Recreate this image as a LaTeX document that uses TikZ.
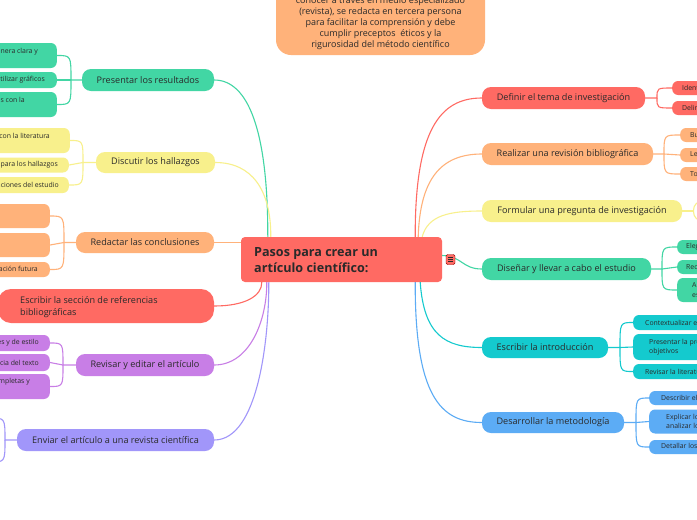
\documentclass[tikz,border=0pt]{standalone}
\usepackage{fontspec}
\setmainfont{Open Sans}
\usetikzlibrary{backgrounds}
\definecolor{cred}{HTML}{FF6A63}
\definecolor{cpeach}{HTML}{FFB27A}
\definecolor{cyellow}{HTML}{F8F08C}
\definecolor{cgreen}{HTML}{42D6A4}
\definecolor{ccyan}{HTML}{14CACE}
\definecolor{cblue}{HTML}{5CACF5}
\definecolor{cpurple}{HTML}{C87EE6}
\definecolor{clav}{HTML}{A196FA}
\definecolor{ink}{HTML}{2A2A2A}
\begin{document}
\begin{tikzpicture}[x=1pt,y=-1pt,
  topic/.style={rounded corners=9pt, minimum height=22pt, inner sep=0pt, font=\fontsize{9.1}{11}\selectfont, text=ink},
  subbox/.style={rounded corners=6pt, inner sep=0pt, minimum width=130pt},
  lbl/.style={inner sep=0pt, font=\fontsize{6.9}{9.2}\selectfont, text=ink},
  link/.style={line width=1.1pt},
]
\useasboundingbox (0,0) rectangle (697,520);

% top note
\node[fill=cpeach, rounded corners=15pt, minimum width=209pt, minimum height=90pt, inner sep=0pt] (note) at (380.5,10) {};
\node[anchor=south, align=center, inner sep=0pt, font=\fontsize{9}{11}\selectfont, text=ink] (notetext) at (380.5,49.5)
 {conocer a través en medio especializado\\(revista), se redacta en tercera persona\\para facilitar la comprensión y debe\\cumplir preceptos \ éticos y la\\rigurosidad del método científico};

% root
\node[fill=cred, rounded corners=4pt, minimum width=201pt, minimum height=45pt, inner sep=0pt] (root) at (341.5,259.5) {};
\node[anchor=west, align=left, inner sep=0pt, font=\bfseries\fontsize{12.6}{16.5}\selectfont, text=ink] (roottext) at (254,260) {Pasos para crear un\\artículo científico:};
\node[fill=cred, draw=red!60!black, line width=0.4pt, rounded corners=1.5pt, minimum width=9pt, minimum height=10pt, inner sep=0pt] (menu) at (450.5,259.5) {};
\draw[ink, line width=0.7pt] ([xshift=-2.3pt,yshift=2.2pt]menu.center) -- ([xshift=2.3pt,yshift=2.2pt]menu.center)
  ([xshift=-2.3pt]menu.center) -- ([xshift=2.3pt]menu.center)
  ([xshift=-2.3pt,yshift=-2.2pt]menu.center) -- ([xshift=2.3pt,yshift=-2.2pt]menu.center);

% right main topics
\node[topic, fill=cred, minimum width=163pt] (definir) at (563.5,98) {Definir el tema de investigación};
\node[topic, fill=cpeach, minimum width=171pt] (revision) at (567.5,154) {Realizar una revisión bibliográfica};
\node[topic, fill=cyellow, minimum width=200pt] (formular) at (582,211) {Formular una pregunta de investigación};
\node[topic, fill=cgreen, minimum width=169pt] (disenar) at (566.5,269) {Diseñar y llevar a cabo el estudio};
\node[topic, fill=ccyan, minimum width=126pt, minimum height=21pt] (intro) at (545,347.5) {Escribir la introducción};
\node[topic, fill=cblue, minimum width=142pt, minimum height=21pt] (metod) at (553,422.5) {Desarrollar la metodología};

% left main topics
\node[topic, fill=cgreen, minimum width=132pt] (presentar) at (148,80) {Presentar los resultados};
\node[topic, fill=cyellow, minimum width=119pt, minimum height=21pt] (discutir) at (155.5,162.5) {Discutir los hallazgos};
\node[topic, fill=cpeach, minimum width=138pt, minimum height=21pt] (redactar) at (145,242.5) {Redactar las conclusiones};
\node[topic, fill=cred, minimum width=216pt, minimum height=34pt, rounded corners=13pt] (refs) at (106,306) {};
\node[anchor=west, align=left, inner sep=0pt, font=\fontsize{9.1}{12}\selectfont, text=ink] (refstext) at (20,307) {Escribir la sección de referencias\\bibliográficas};
\node[topic, fill=cpurple, minimum width=138pt] (revisar) at (145,365) {Revisar y editar el artículo};
\node[topic, fill=clav, minimum width=197pt] (enviar) at (115.5,440) {Enviar el artículo a una revista científica};

% right sub topics
\node[subbox, fill=cred, anchor=west, minimum height=14pt] (df1) at (672,88) {};
\node[lbl, anchor=west] (df1t) at (682,88) {Identificar un área de interés};
\node[subbox, fill=cred, anchor=west, minimum height=14pt] (df2) at (672,108) {};
\node[lbl, anchor=west] (df2t) at (682,108) {Delimitar el tema};

\node[subbox, fill=cpeach, anchor=west, minimum height=14pt] (rv1) at (680,135) {};
\node[lbl, anchor=west] (rv1t) at (690,135) {Buscar fuentes relevantes};
\node[subbox, fill=cpeach, anchor=west, minimum height=14pt] (rv2) at (680,155) {};
\node[lbl, anchor=west] (rv2t) at (690,155) {Leer y analizar la literatura};
\node[subbox, fill=cpeach, anchor=west, minimum height=14pt] (rv3) at (680,174) {};
\node[lbl, anchor=west] (rv3t) at (690,174) {Tomar notas};

\node[subbox, fill=white, draw=cyellow, line width=1.1pt, anchor=west, minimum height=20pt, rounded corners=9pt] (fq) at (693,211) {};

\node[subbox, fill=cgreen, anchor=west, minimum height=14pt] (de1) at (677,247) {};
\node[lbl, anchor=west] (de1t) at (686,247) {Elegir el diseño del estudio};
\node[subbox, fill=cgreen, anchor=west, minimum height=14pt] (de2) at (677,267) {};
\node[lbl, anchor=west] (de2t) at (686,267) {Recolectar los datos};
\node[subbox, fill=cgreen, anchor=west, minimum height=24pt] (de3) at (677,290) {};
\node[lbl, anchor=west, align=left] (de3t) at (692,290) {Analizar los datos\\estadísticamente};

\node[subbox, fill=ccyan, anchor=west, minimum height=15pt] (in1) at (633,322.5) {};
\node[lbl, anchor=west] (in1t) at (645,322.5) {Contextualizar el tema};
\node[subbox, fill=ccyan, anchor=west, minimum height=26pt] (in2) at (633,347) {};
\node[lbl, anchor=west, align=left] (in2t) at (649,347) {Presentar la pregunta y los\\objetivos};
\node[subbox, fill=ccyan, anchor=west, minimum height=15pt] (in3) at (633,371.5) {};
\node[lbl, anchor=west] (in3t) at (645,371.5) {Revisar la literatura relevante};

\node[subbox, fill=cblue, anchor=west, minimum height=14pt] (mt1) at (649,398) {};
\node[lbl, anchor=west] (mt1t) at (661,398) {Describir el diseño del estudio};
\node[subbox, fill=cblue, anchor=west, minimum height=24pt] (mt2) at (649,421.5) {};
\node[lbl, anchor=west, align=left] (mt2t) at (666,421.5) {Explicar los métodos para\\analizar los datos};
\node[subbox, fill=cblue, anchor=west, minimum height=14pt] (mt3) at (649,447) {};
\node[lbl, anchor=west] (mt3t) at (661,447) {Detallar los procedimientos};

% left sub topics
\node[subbox, fill=cgreen, anchor=east, minimum height=25pt] (ps1) at (57,55.5) {};
\node[lbl, anchor=east] (ps1t) at (38,52) {Describir los resultados de manera clara y};
\node[subbox, fill=cgreen, anchor=east, minimum height=16pt] (ps2) at (57,80) {};
\node[lbl, anchor=east] (ps2t) at (45,80) {Utilizar gráficos};
\node[subbox, fill=cgreen, anchor=east, minimum height=25pt] (ps3) at (57,104.5) {};
\node[lbl, anchor=east] (ps3t) at (25,101) {Comparar los resultados con la};

\node[subbox, fill=cyellow, anchor=east, minimum height=25pt] (ds1) at (70,140.5) {};
\node[lbl, anchor=east] (ds1t) at (50,136) {Relacionar los resultados con la literatura};
\node[subbox, fill=cyellow, anchor=east, minimum height=15pt] (ds2) at (69,165) {};
\node[lbl, anchor=east] (ds2t) at (58,165) {Proponer explicaciones para los hallazgos};
\node[subbox, fill=cyellow, anchor=east, minimum height=16pt] (ds3) at (69,185) {};
\node[lbl, anchor=east] (ds3t) at (59,185) {Reconocer las limitaciones del estudio};

\node[subbox, fill=cpeach, anchor=east, minimum height=24pt] (rs1) at (50,216) {};
\node[subbox, fill=cpeach, anchor=east, minimum height=24pt] (rs2) at (50,245) {};
\node[subbox, fill=cpeach, anchor=east, minimum height=15pt] (rs3) at (50,269.5) {};
\node[lbl, anchor=east] (rs3t) at (38,270) {Sugerir áreas de investigación futura};

\node[subbox, fill=cpurple, anchor=east, minimum height=16pt] (vs1) at (50,343) {};
\node[lbl, anchor=east] (vs1t) at (39,343) {Corregir errores gramaticales y de estilo};
\node[subbox, fill=cpurple, anchor=east, minimum height=17pt] (vs2) at (50,362.5) {};
\node[lbl, anchor=east] (vs2t) at (39,362.5) {Verificar la coherencia del texto};
\node[subbox, fill=cpurple, anchor=east, minimum height=25pt] (vs3) at (50,386.5) {};
\node[lbl, anchor=east] (vs3t) at (30,382) {Asegurarse de que las referencias estén completas y};

\coordinate (en1) at (-10,418);
\coordinate (en2) at (-10,462);

\begin{pgfonlayer}{background}
\fill[white] (0,0) rectangle (697,520);
% main connectors right
\draw[link, cred] ([xshift=-27pt]root.north east) .. controls (415,130) and (440,98) .. (definir.west);
\draw[link, cpeach] ([xshift=-24pt]root.north east) .. controls (420,180) and (440,154) .. (revision.west);
\draw[link, cyellow] ([xshift=-20pt]root.north east) .. controls (428,215) and (450,211) .. (formular.west);
\draw[link, cgreen] ([yshift=4pt]root.east) .. controls (462,256) and (462,269) .. (disenar.west);
\draw[link, ccyan] ([xshift=-22pt]root.south east) .. controls (424,335) and (445,347.5) .. (intro.west);
\draw[link, cblue] ([xshift=-27pt]root.south east) .. controls (415,395) and (440,422.5) .. (metod.west);
% main connectors left
\draw[link, cgreen] (presentar.east) .. controls (248,80) and (268,130) .. ([xshift=27pt]root.north west);
\draw[link, cyellow] (discutir.east) .. controls (252,162.5) and (271,190) .. ([xshift=30pt]root.north west);
\draw[link, cpeach] (redactar.east) -- (root.west |- redactar.east);
\draw[link, cred] (refs.east) .. controls (245,306) and (262,296) .. ([xshift=21pt]root.south west);
\draw[link, cpurple] (revisar.east) .. controls (250,365) and (267,320) .. ([xshift=26pt]root.south west);
\draw[link, clav] (enviar.east) .. controls (258,440) and (269,340) .. ([xshift=28pt]root.south west);
% sub connectors right
\draw[link, cred] (definir.east) -- (657,98) .. controls (657,88) .. (df1.west);
\draw[link, cred] (657,98) .. controls (657,108) .. (df2.west);
\draw[link, cpeach] (revision.east) -- (664,154) .. controls (664,135) .. (rv1.west);
\draw[link, cpeach] (664,154) -- (rv2.west);
\draw[link, cpeach] (664,154) .. controls (664,174) .. (rv3.west);
\draw[link, cyellow] (formular.east) -- (fq.west);
\draw[link, cgreen] (disenar.east) -- (662,269) .. controls (662,247) .. (de1.west);
\draw[link, cgreen] (662,269) -- (de2.west);
\draw[link, cgreen] (662,269) .. controls (662,290) .. (de3.west);
\draw[link, ccyan] (intro.east) -- (620,347.5) .. controls (620,322.5) .. (in1.west);
\draw[link, ccyan] (620,347.5) -- (in2.west);
\draw[link, ccyan] (620,347.5) .. controls (620,371.5) .. (in3.west);
\draw[link, cblue] (metod.east) -- (636,422.5) .. controls (636,398) .. (mt1.west);
\draw[link, cblue] (636,422.5) -- (mt2.west);
\draw[link, cblue] (636,422.5) .. controls (636,447) .. (mt3.west);
% sub connectors left
\draw[link, cgreen] (presentar.west) -- (71,80) .. controls (71,55.5) .. (ps1.east);
\draw[link, cgreen] (71,80) -- (ps2.east);
\draw[link, cgreen] (71,80) .. controls (71,104.5) .. (ps3.east);
\draw[link, cyellow] (discutir.west) -- (83,162.5) .. controls (83,140.5) .. (ds1.east);
\draw[link, cyellow] (83,162.5) -- (ds2.east);
\draw[link, cyellow] (83,162.5) .. controls (83,185) .. (ds3.east);
\draw[link, cpeach] (redactar.west) -- (64,242.5) .. controls (64,216) .. (rs1.east);
\draw[link, cpeach] (64,242.5) -- (rs2.east);
\draw[link, cpeach] (64,242.5) .. controls (64,269.5) .. (rs3.east);
\draw[link, cpurple] (revisar.west) -- (63,365) .. controls (63,343) .. (vs1.east);
\draw[link, cpurple] (63,365) -- (vs2.east);
\draw[link, cpurple] (63,365) .. controls (63,386.5) .. (vs3.east);
\draw[link, clav] (enviar.west) -- (5,440) .. controls (5,418) .. (en1);
\draw[link, clav] (5,440) .. controls (5,462) .. (en2);
\end{pgfonlayer}
\end{tikzpicture}
\end{document}
